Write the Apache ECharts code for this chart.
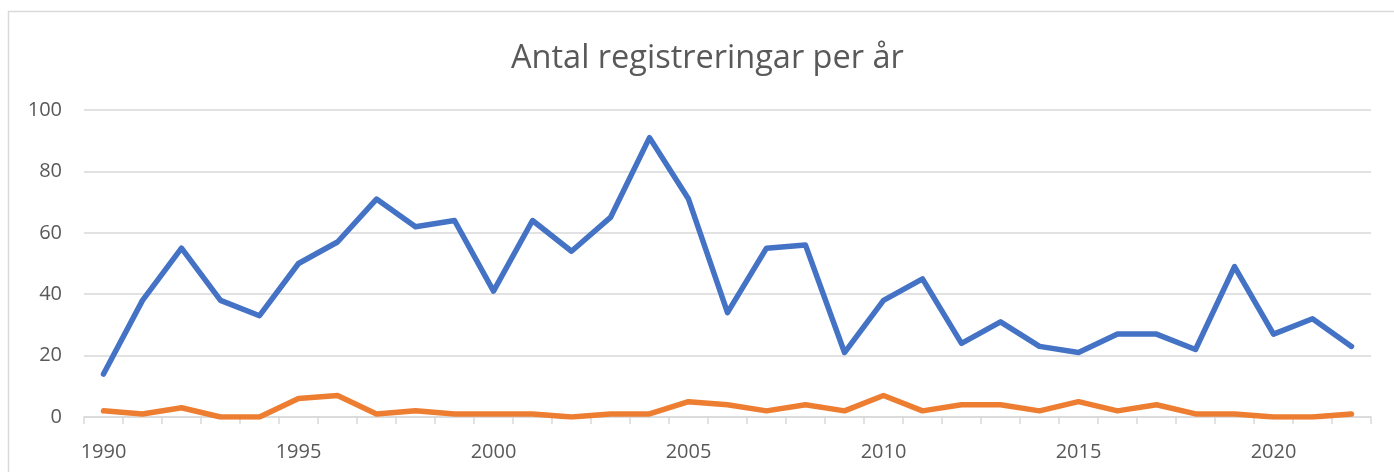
<!DOCTYPE html>
<html>
<head>
<meta charset="utf-8">
<script src="https://cdn.jsdelivr.net/npm/echarts@6/dist/echarts.min.js"></script>
<style>
  html, body { margin: 0; padding: 0; background: #fff; }
  #chart { width: 1394px; height: 472px; }
</style>
</head>
<body>
<div id="chart"></div>
<script>
// år 1990-2022
const years = [];
for (let y = 1990; y <= 2022; y++) years.push(String(y));

const serieA = [14, 38, 55, 38, 33, 50, 57, 71, 62, 64, 41, 64, 54, 65, 91, 71, 34,
  55, 56, 21, 38, 45, 24, 31, 23, 21, 27, 27, 22, 49, 27, 32, 23];
const serieB = [2, 1, 3, 0, 0, 6, 7, 1, 2, 1, 1, 1, 0, 1, 1, 5, 4,
  2, 4, 2, 7, 2, 4, 4, 2, 5, 2, 4, 1, 1, 0, 0, 1];

const textColor = "#595959";
const lineColor = "#D9D9D9";
const font = "'Open Sans', 'Noto Sans', sans-serif";

const chart = echarts.init(document.getElementById("chart"));
chart.setOption({
    animation: false,
    backgroundColor: "#fff",
    title: {
        text: "Antal registreringar per år",
        left: 506,
        top: 37,
        textStyle: {
            color: textColor,
            fontFamily: font,
            fontSize: 32.5,
            fontWeight: "normal",
        },
    },
    graphic: [
        {
            // ram runt diagrammet
            type: "rect",
            shape: { x: 8.5, y: 11.5, width: 1400, height: 500 },
            style: { fill: "none", stroke: lineColor, lineWidth: 1.5 },
            silent: true,
        },
    ],
    grid: {
        left: 84,
        right: 23,
        top: 110,
        bottom: 55,
    },
    xAxis: {
        type: "category",
        data: years,
        boundaryGap: true,
        axisLine: { show: true, lineStyle: { color: lineColor, width: 1.5 } },
        axisTick: { show: true, interval: 0, length: 7, lineStyle: { color: lineColor, width: 1.5 } },
        axisLabel: {
            interval: 4,
            color: textColor,
            fontFamily: font,
            fontSize: 20,
            margin: 25,
        },
    },
    yAxis: {
        type: "value",
        min: 0,
        max: 100,
        interval: 20,
        axisLine: { show: false },
        axisTick: { show: false },
        splitLine: { lineStyle: { color: lineColor, width: 1.5 } },
        axisLabel: {
            color: textColor,
            fontFamily: font,
            fontSize: 20,
            margin: 22,
        },
    },
    series: [
        {
            name: "A",
            type: "line",
            data: serieA,
            symbol: "none",
            lineStyle: { color: "#4472C4", width: 5.5, cap: "round", join: "round" },
            z: 3,
        },
        {
            name: "B",
            type: "line",
            data: serieB,
            symbol: "none",
            lineStyle: { color: "#ED7D31", width: 5.5, cap: "round", join: "round" },
            z: 2,
        },
    ],
});
</script>
</body>
</html>
